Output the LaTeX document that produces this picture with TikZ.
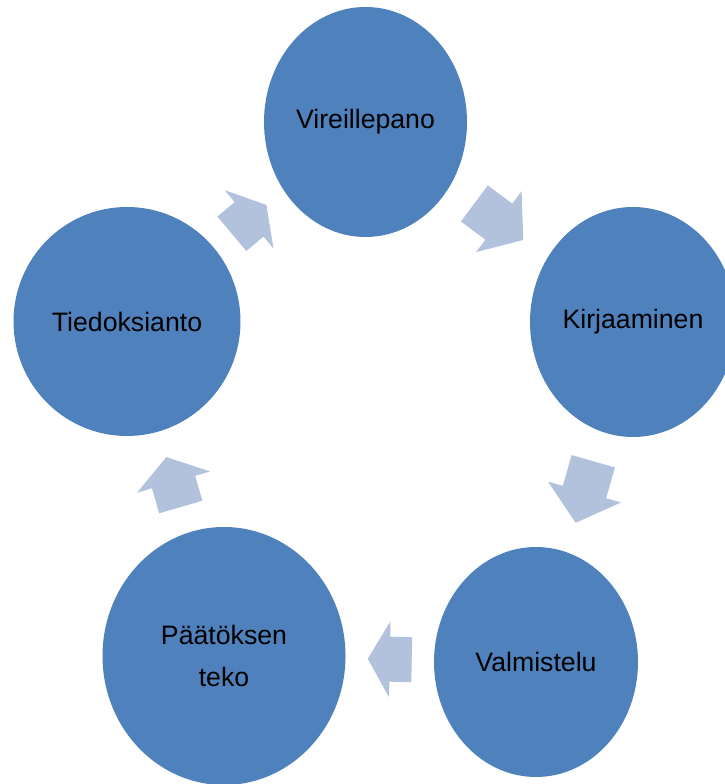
\documentclass[tikz,border=0pt]{standalone}
\usepackage{fontspec}
\setmainfont{Liberation Sans}
\usetikzlibrary{shapes.geometric}
\definecolor{stepblue}{HTML}{4F81BD}
\definecolor{flowblue}{HTML}{B2C2DD}
\begin{document}
\begin{tikzpicture}[x=0.75pt,y=0.75pt,
        phase/.style={ellipse, fill=stepblue, inner sep=0pt, align=center,
            font=\fontsize{20}{31}\selectfont},
        flowarrow/.pic={\fill[flowblue] (-#1/2,-22.5) -- (0,-22.5) -- (0,-38) -- (#1/2,0)
            -- (0,38) -- (0,22.5) -- (-#1/2,22.5) -- cycle;},
        flow/.style={pos=0.5, sloped, allow upside down}]
        \useasboundingbox (0,0) rectangle (724,784);

        \node[phase, minimum width=152.25pt, minimum height=172.5pt] (vire) at (365.5,662) {Vireillepano};
        \node[phase, minimum width=154.5pt, minimum height=172.5pt] (kirj) at (633,462) {Kirjaaminen};
        \node[phase, minimum width=153pt, minimum height=172.5pt] (valm) at (536,122) {Valmistelu};
        \node[phase, minimum width=182.25pt, minimum height=193.5pt] (paat) at (224,128) {Päätöksen\\teko};
        \node[phase, minimum width=170.25pt, minimum height=171.75pt] (tied) at (127,462.5) {Tiedoksianto};

        \path (vire) -- (kirj) pic[flow] {flowarrow=61};
        \path (kirj) -- (valm) pic[flow] {flowarrow=64};
        \path (valm) -- (paat) pic[flow] {flowarrow=44};
        \path (paat) -- (tied) pic[flow] {flowarrow=52};
        \path (tied) -- (vire) pic[flow] {flowarrow=45};
    \end{tikzpicture}
\end{document}
